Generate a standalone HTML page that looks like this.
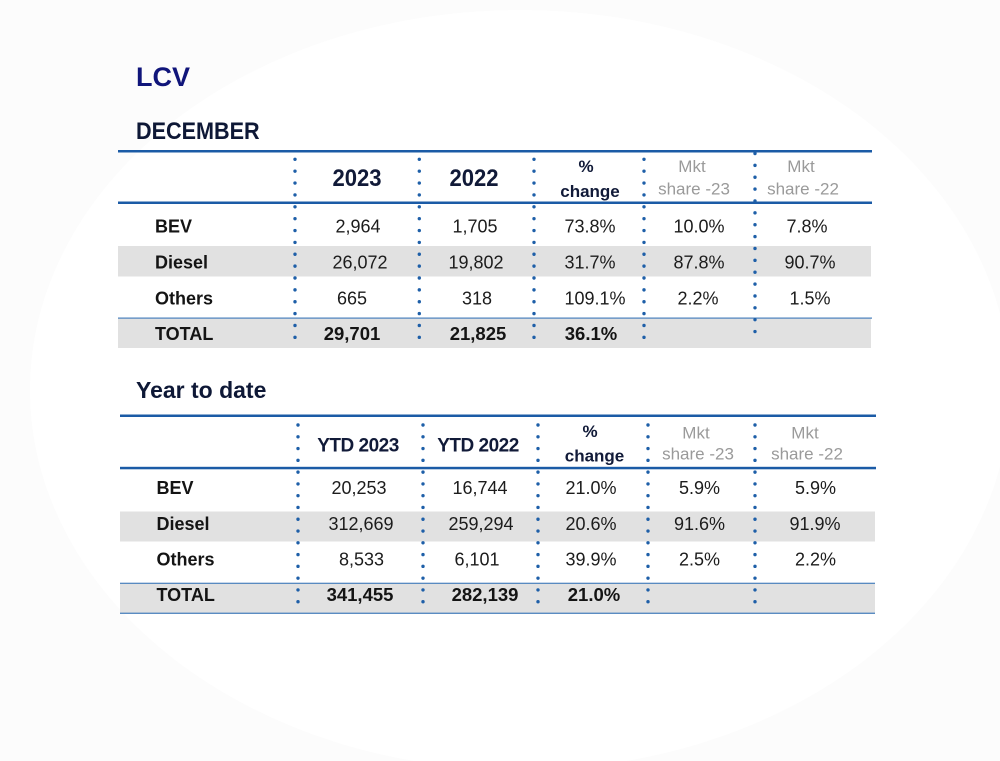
<!DOCTYPE html>
<html>
<head>
<meta charset="utf-8">
<style>
  html,body{margin:0;padding:0;background:#fff;}
  svg{display:block;}
  .ttl{font-family:"Liberation Sans",sans-serif;font-weight:bold;}
  .lab{font-family:"Liberation Sans",sans-serif;font-weight:bold;font-size:18px;fill:#141414;}
  .val{font-family:"Liberation Sans",sans-serif;font-size:18px;fill:#1c1c1c;text-anchor:middle;}
  .bval{font-family:"Liberation Sans",sans-serif;font-size:18.5px;font-weight:bold;fill:#141414;text-anchor:middle;}
  .hdr{font-family:"Liberation Sans",sans-serif;font-weight:bold;fill:#111a38;text-anchor:middle;}
  .mkt{font-family:"Liberation Sans",sans-serif;font-size:17px;fill:#9a9a9a;text-anchor:middle;}
  .dots{stroke:#1e5fa8;stroke-width:3.4;stroke-linecap:round;}
</style>
</head>
<body>
<svg width="1000" height="761" viewBox="0 0 1000 761" xmlns="http://www.w3.org/2000/svg">
  <rect x="0" y="0" width="1000" height="761" fill="#fcfcfc"/>
  <ellipse cx="520" cy="390" rx="490" ry="380" fill="#ffffff"/>

  <!-- Titles -->
  <text class="ttl" x="136" y="86" font-size="27" fill="#10157a">LCV</text>
  <text class="ttl" font-size="24" fill="#0e1836" transform="translate(136,139) scale(0.9,1)">DECEMBER</text>

  <!-- ===== TABLE 1 ===== -->
  <rect x="118" y="246" width="753" height="30.5" fill="#e1e1e1"/>
  <rect x="118" y="318" width="753" height="30" fill="#e1e1e1"/>
  <rect x="118" y="150" width="754" height="2.5" fill="#1b5ba6"/>
  <rect x="118" y="201.5" width="754" height="2.5" fill="#1b5ba6"/>
  <rect x="118" y="317.5" width="754" height="1.2" fill="#4a80bd"/>

  <line class="dots" x1="295" y1="159.3" x2="295" y2="340" stroke-dasharray="0 11.87"/>
  <line class="dots" x1="419.3" y1="159.3" x2="419.3" y2="340" stroke-dasharray="0 11.87"/>
  <line class="dots" x1="534" y1="159.3" x2="534" y2="340" stroke-dasharray="0 11.87"/>
  <line class="dots" x1="644" y1="159.3" x2="644" y2="340" stroke-dasharray="0 11.87"/>
  <line class="dots" x1="755" y1="153.5" x2="755" y2="334" stroke-dasharray="0 11.87"/>

  <text class="hdr" font-size="24" transform="translate(357,186) scale(0.92,1)">2023</text>
  <text class="hdr" font-size="24" transform="translate(474,186) scale(0.92,1)">2022</text>
  <text class="hdr" x="586" y="172" font-size="17">%</text>
  <text class="hdr" x="590" y="197" font-size="17">change</text>
  <text class="mkt" x="692" y="172">Mkt</text>
  <text class="mkt" x="694" y="194.5">share -23</text>
  <text class="mkt" x="801" y="172">Mkt</text>
  <text class="mkt" x="803" y="194.5">share -22</text>

  <text class="lab" x="155" y="232.7">BEV</text>
  <text class="lab" x="155" y="268.3">Diesel</text>
  <text class="lab" x="155" y="304.3">Others</text>
  <text class="lab" x="155" y="340">TOTAL</text>

  <text class="val" x="358" y="232.7">2,964</text>
  <text class="val" x="475" y="232.7">1,705</text>
  <text class="val" x="590" y="232.7">73.8%</text>
  <text class="val" x="699" y="232.7">10.0%</text>
  <text class="val" x="807" y="232.7">7.8%</text>

  <text class="val" x="360" y="268.3">26,072</text>
  <text class="val" x="476" y="268.3">19,802</text>
  <text class="val" x="590" y="268.3">31.7%</text>
  <text class="val" x="699" y="268.3">87.8%</text>
  <text class="val" x="810" y="268.3">90.7%</text>

  <text class="val" x="352" y="304.3">665</text>
  <text class="val" x="477" y="304.3">318</text>
  <text class="val" x="595" y="304.3">109.1%</text>
  <text class="val" x="698" y="304.3">2.2%</text>
  <text class="val" x="810" y="304.3">1.5%</text>

  <text class="bval" x="352" y="340">29,701</text>
  <text class="bval" x="478" y="340">21,825</text>
  <text class="bval" x="591" y="340">36.1%</text>

  <!-- ===== TABLE 2 ===== -->
  <text class="ttl" x="136" y="398" font-size="23" fill="#0e1836">Year to date</text>

  <rect x="120" y="511.5" width="755" height="30" fill="#e1e1e1"/>
  <rect x="120" y="583" width="755" height="30" fill="#e1e1e1"/>
  <rect x="120" y="414.5" width="756" height="2.5" fill="#1b5ba6"/>
  <rect x="120" y="466.8" width="756" height="2.5" fill="#1b5ba6"/>
  <rect x="120" y="582.7" width="755" height="1.2" fill="#4a80bd"/>
  <rect x="120" y="612.6" width="755" height="1.4" fill="#5a8cc2"/>

  <line class="dots" x1="298" y1="425" x2="298" y2="605" stroke-dasharray="0 11.78"/>
  <line class="dots" x1="423" y1="425" x2="423" y2="605" stroke-dasharray="0 11.78"/>
  <line class="dots" x1="538" y1="425" x2="538" y2="605" stroke-dasharray="0 11.78"/>
  <line class="dots" x1="648" y1="425" x2="648" y2="605" stroke-dasharray="0 11.78"/>
  <line class="dots" x1="755" y1="425" x2="755" y2="605" stroke-dasharray="0 11.78"/>

  <text class="hdr" x="358" y="451.7" font-size="19" letter-spacing="-0.5">YTD 2023</text>
  <text class="hdr" x="478" y="451.7" font-size="19" letter-spacing="-0.5">YTD 2022</text>
  <text class="hdr" x="590" y="437" font-size="17">%</text>
  <text class="hdr" x="594.5" y="461.7" font-size="17">change</text>
  <text class="mkt" x="696" y="438.3">Mkt</text>
  <text class="mkt" x="698" y="459.3">share -23</text>
  <text class="mkt" x="805" y="438.3">Mkt</text>
  <text class="mkt" x="807" y="459.3">share -22</text>

  <text class="lab" x="156.5" y="494">BEV</text>
  <text class="lab" x="156.5" y="530">Diesel</text>
  <text class="lab" x="156.5" y="565.7">Others</text>
  <text class="lab" x="156.5" y="601">TOTAL</text>

  <text class="val" x="359" y="494">20,253</text>
  <text class="val" x="480" y="494">16,744</text>
  <text class="val" x="591" y="494">21.0%</text>
  <text class="val" x="699.5" y="494">5.9%</text>
  <text class="val" x="815.5" y="494">5.9%</text>

  <text class="val" x="361" y="530">312,669</text>
  <text class="val" x="481" y="530">259,294</text>
  <text class="val" x="591" y="530">20.6%</text>
  <text class="val" x="699.5" y="530">91.6%</text>
  <text class="val" x="815" y="530">91.9%</text>

  <text class="val" x="361.5" y="565.7">8,533</text>
  <text class="val" x="477" y="565.7">6,101</text>
  <text class="val" x="591" y="565.7">39.9%</text>
  <text class="val" x="699.5" y="565.7">2.5%</text>
  <text class="val" x="815.5" y="565.7">2.2%</text>

  <text class="bval" x="360" y="601">341,455</text>
  <text class="bval" x="485" y="601">282,139</text>
  <text class="bval" x="594" y="601">21.0%</text>
</svg>
</body>
</html>
